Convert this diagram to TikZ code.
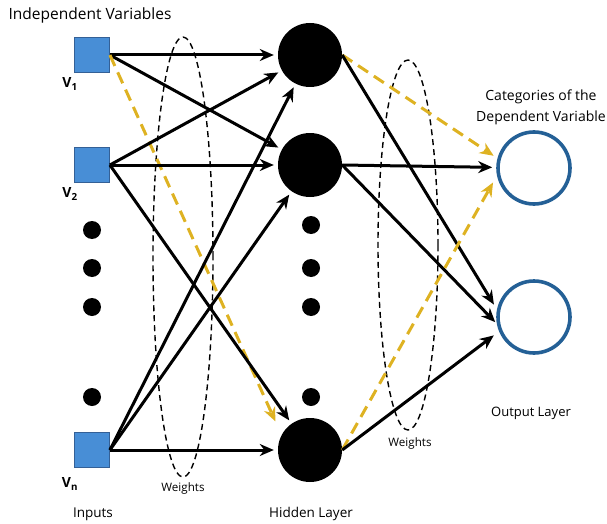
\documentclass[tikz,border=0pt]{standalone}
\usepackage{fontspec}
\setmainfont{Open Sans}
\usetikzlibrary{arrows.meta,shapes.geometric}
\definecolor{boxblue}{RGB}{72,142,214}
\definecolor{boxedge}{RGB}{52,96,150}
\definecolor{ringblue}{RGB}{36,96,150}
\definecolor{linkgold}{RGB}{222,178,34}
\begin{document}
\begin{tikzpicture}[x=1pt,y=-1pt,
  inputbox/.style={draw=boxedge,fill=boxblue,line width=0.8pt,minimum size=35pt,inner sep=0pt},
  hidden/.style={circle,fill=black,minimum size=64pt,inner sep=0pt},
  outnode/.style={circle,draw=ringblue,line width=3.6pt,minimum size=72pt,inner sep=0pt},
  dotmark/.style={circle,fill=black,minimum size=18pt,inner sep=0pt},
  weightring/.style={ellipse,draw,line width=1.4pt,dash pattern=on 6pt off 4pt,inner sep=0pt},
  link/.style={line width=3pt,shorten >=4pt,-{Stealth[length=14pt,width=12pt]}},
  goldlink/.style={line width=3pt,draw=linkgold,shorten >=4pt,dash pattern=on 12pt off 7pt,-{Stealth[length=14pt,width=12pt,fill=linkgold]}},
  vlabel/.style={font=\fontsize{14}{16}\selectfont\bfseries},
  caption/.style={font=\fontsize{13.5}{16}\selectfont}
]
\useasboundingbox (0,0) rectangle (607,524);

% dashed weight rings
\node[weightring,minimum width=60pt,minimum height=440pt] (w1) at (183,257) {};
\node[weightring,minimum width=60pt,minimum height=370pt] (w2) at (408,245) {};

% input layer
\node[inputbox] (v1) at (92,55) {};
\node[inputbox] (v2) at (92,165) {};
\node[inputbox] (vn) at (92,450) {};
\node[dotmark] (id1) at (92,230) {};
\node[dotmark] (id2) at (92,268) {};
\node[dotmark] (id3) at (92,307) {};
\node[dotmark] (id4) at (92,397) {};

% hidden layer
\node[hidden] (h1) at (310,55) {};
\node[hidden] (h2) at (310,165) {};
\node[hidden] (hn) at (310,450) {};
\node[dotmark] (hd1) at (311,225) {};
\node[dotmark] (hd2) at (311,268) {};
\node[dotmark] (hd3) at (311,307) {};
\node[dotmark] (hd4) at (311,397) {};
\path (hn) ++(-33,-25) coordinate (hnin);

% output layer with entry points on the left of each ring
\node[outnode] (o1) at (534,168) {};
\node[outnode] (o2) at (534,317) {};
\path (o1) ++(-37,-10) coordinate (o1a);
\path (o1) ++(-39,11) coordinate (o1c);
\path (o2) ++(-38,-9) coordinate (o2a);
\path (o2) ++(-36,8) coordinate (o2b);
\path (o2) ++(-37,16) coordinate (o2c);

% input to hidden connections
\draw[link] (v1.east) -- (h1);
\draw[link] (v1.east) -- (h2);
\draw[goldlink] (v1.east) -- (hnin);
\draw[link] (v2.east) -- (h1);
\draw[link] (v2.east) -- (h2);
\draw[link] (v2.east) -- (hn);
\draw[link] (vn.east) -- (h1);
\draw[link] (vn.east) -- (h2);
\draw[link] (vn.east) -- (hn);

% hidden to output connections
\draw[goldlink] (h1.east) -- (o1a);
\draw[link] (h1.east) -- (o2a);
\draw[link] (h2.east) -- (o1);
\draw[link] (h2.east) -- (o2b);
\draw[goldlink] (hn.east) -- (o1c);
\draw[link] (hn.east) -- (o2c);

% labels
\node[font=\fontsize{15.5}{18}\selectfont] (tin) at (90,15) {Independent Variables};
\node[vlabel] (l1) at (70,84) {V\textsubscript{1}};
\node[vlabel] (l2) at (70,194) {V\textsubscript{2}};
\node[vlabel] (ln) at (70,484) {V\textsubscript{n}};
\node[caption] (tinputs) at (93,514) {Inputs};
\node[font=\fontsize{11.6}{14}\selectfont] (tw1) at (183,488) {Weights};
\node[caption] (thid) at (311,514) {Hidden Layer};
\node[font=\fontsize{11.6}{14}\selectfont] (tw2) at (410,443) {Weights};
\node[font=\fontsize{13}{15}\selectfont] (tout) at (531,413) {Output Layer};
\node[align=center,font=\fontsize{14}{21}\selectfont] (tcat) at (541,107) {Categories of the\\Dependent Variable};
\end{tikzpicture}
\end{document}
